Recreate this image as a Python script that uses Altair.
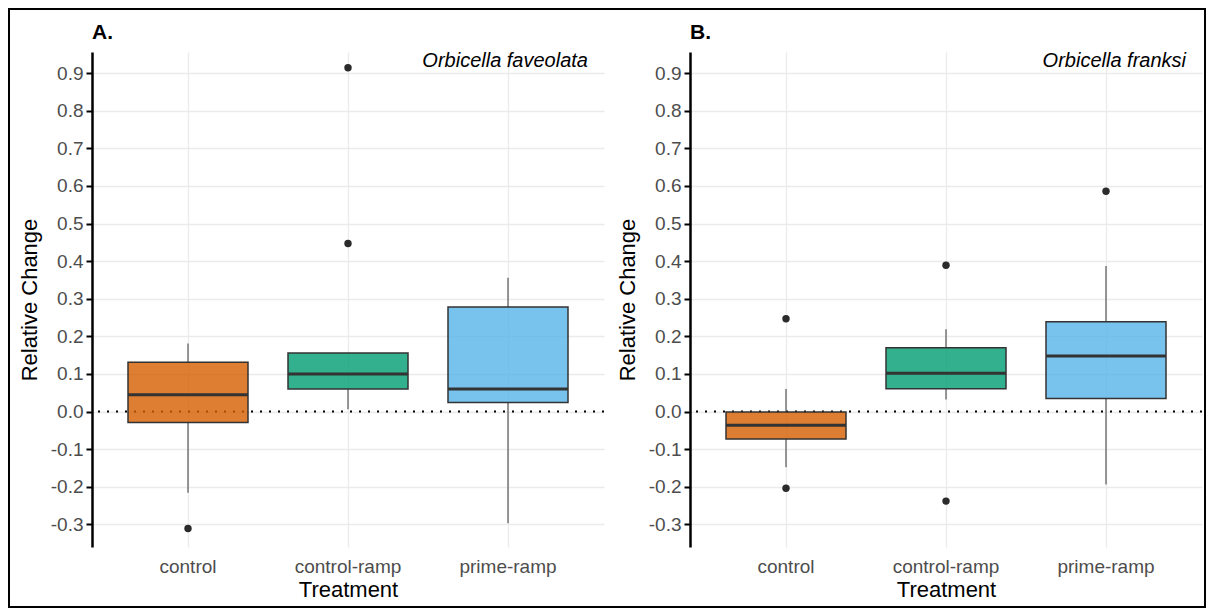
import altair as alt
import pandas as pd

treatments = ["control", "control-ramp", "prime-ramp"]
colors = ["#D55E00", "#009E73", "#56B4E9"]

# Panel A: Orbicella faveolata
a_q1 = [-0.029, 0.060, 0.024]
a_med = [0.045, 0.100, 0.060]
a_q3 = [0.131, 0.156, 0.278]
a_lo = [-0.216, 0.006, -0.297]
a_hi = [0.181, 0.156, 0.356]
a_out_trt = ["control", "control-ramp", "control-ramp"]
a_out_val = [-0.311, 0.447, 0.914]

# Panel B: Orbicella franksi
b_q1 = [-0.073, 0.061, 0.035]
b_med = [-0.036, 0.102, 0.148]
b_q3 = [-0.001, 0.170, 0.239]
b_lo = [-0.148, 0.032, -0.194]
b_hi = [0.060, 0.219, 0.387]
b_out_trt = ["control", "control", "control-ramp", "control-ramp", "prime-ramp"]
b_out_val = [0.247, -0.204, 0.389, -0.238, 0.586]

y_ticks = [-0.3, -0.2, -0.1, 0.0, 0.1, 0.2, 0.3, 0.4, 0.5, 0.6, 0.7, 0.8, 0.9]
y_domain = [-0.36, 0.956]

W, H = 512, 495
FONT = "Liberation Sans"


def panel(letter, species, q1, med, q3, lo, hi, out_trt, out_val, border=False):
    stats = pd.DataFrame({"Treatment": treatments, "q1": q1, "med": med,
                          "q3": q3, "lo": lo, "hi": hi})
    outs = pd.DataFrame({"Treatment": out_trt, "val": out_val})

    x = alt.X("Treatment:N", sort=treatments,
              scale=alt.Scale(paddingInner=0.25, paddingOuter=0.225),
              axis=alt.Axis(title="Treatment", domain=False, ticks=False,
                            labelAngle=0, labelPadding=10, labelFontSize=19,
                            labelColor="#4D4D4D", titleFontSize=22,
                            titleFontWeight="normal", titleColor="black",
                            titlePadding=3, grid=True, gridColor="#EBEBEB",
                            gridWidth=1.3, labelFont=FONT, titleFont=FONT))
    yscale = alt.Scale(domain=y_domain, nice=False, zero=False)
    yaxis = alt.Axis(title="Relative Change", values=y_ticks,
                     labelExpr="replace(format(datum.value, '.1f'), '\u2212', '-')",
                     domain=True, domainColor="black", domainWidth=2.5,
                     ticks=True, tickColor="black", tickSize=6, tickWidth=2,
                     labelPadding=3, labelFontSize=19, labelColor="#4D4D4D",
                     titleFontSize=22, titleFontWeight="normal",
                     titleColor="black", titlePadding=9, grid=True,
                     gridColor="#EBEBEB", gridWidth=1.3, labelFont=FONT,
                     titleFont=FONT)
    base = alt.Chart(stats)
    color = alt.Color("Treatment:N", scale=alt.Scale(domain=treatments, range=colors),
                      legend=None)

    grid = base.mark_rule(opacity=0).encode(
        x=x, y=alt.Y("med:Q", scale=yscale, axis=yaxis))
    zero = alt.Chart(pd.DataFrame({"z": [0.0]})).mark_rule(
        color="black", strokeWidth=2, strokeDash=[2, 7]).encode(
        y=alt.Y("z:Q", scale=yscale))
    wl = base.mark_rule(color="#555555", strokeWidth=1.2).encode(
        x=alt.X("Treatment:N", sort=treatments), y="lo:Q", y2="q1:Q")
    wh = base.mark_rule(color="#555555", strokeWidth=1.2).encode(
        x=alt.X("Treatment:N", sort=treatments), y="q3:Q", y2="hi:Q")
    box = base.mark_bar(fillOpacity=0.8, stroke="#333333", strokeWidth=1.5).encode(
        x=alt.X("Treatment:N", sort=treatments), y="q1:Q", y2="q3:Q", color=color)
    medl = base.mark_tick(color="#333333", thickness=3, size=120, opacity=1).encode(
        x=alt.X("Treatment:N", sort=treatments), y="med:Q")
    pts = alt.Chart(outs).mark_circle(color="#2b2b2b", size=55, opacity=1).encode(
        x=alt.X("Treatment:N", sort=treatments), y=alt.Y("val:Q", scale=yscale))
    lbl = alt.Chart(pd.DataFrame({"t": [species]})).mark_text(
        align="right", baseline="middle", fontStyle="italic", fontSize=20,
        font=FONT, color="black").encode(
        x=alt.value(W - 16), y=alt.value(9), text="t:N")
    ttl = alt.Chart(pd.DataFrame({"t": [letter]})).mark_text(
        align="left", baseline="middle", fontWeight="bold", fontSize=21,
        font=FONT, color="black").encode(
        x=alt.value(0), y=alt.value(-19), text="t:N")
    layers = [grid, zero, wl, wh, box, medl, pts, lbl, ttl]
    if border:
        rect = alt.Chart(pd.DataFrame({"t": [0]})).mark_rect(
            fill=None, fillOpacity=0, stroke="black", strokeWidth=2, clip=False).encode(
            x=alt.value(-83), x2=alt.value(1113), y=alt.value(-43), y2=alt.value(555))
        layers = [rect] + layers
    return alt.layer(*layers).properties(width=W, height=H)


pa = panel("A.", "Orbicella faveolata", a_q1, a_med, a_q3, a_lo, a_hi,
           a_out_trt, a_out_val, border=True)
pb = panel("B.", "Orbicella franksi", b_q1, b_med, b_q3, b_lo, b_hi,
           b_out_trt, b_out_val)

chart = alt.hconcat(pa, pb, spacing=86, bounds="flush").properties(
    padding=0, background="white"
).configure_view(stroke=None).configure_axis(labelFont=FONT, titleFont=FONT)

chart.save("out.html", embed_options={"renderer": "svg", "actions": False})
